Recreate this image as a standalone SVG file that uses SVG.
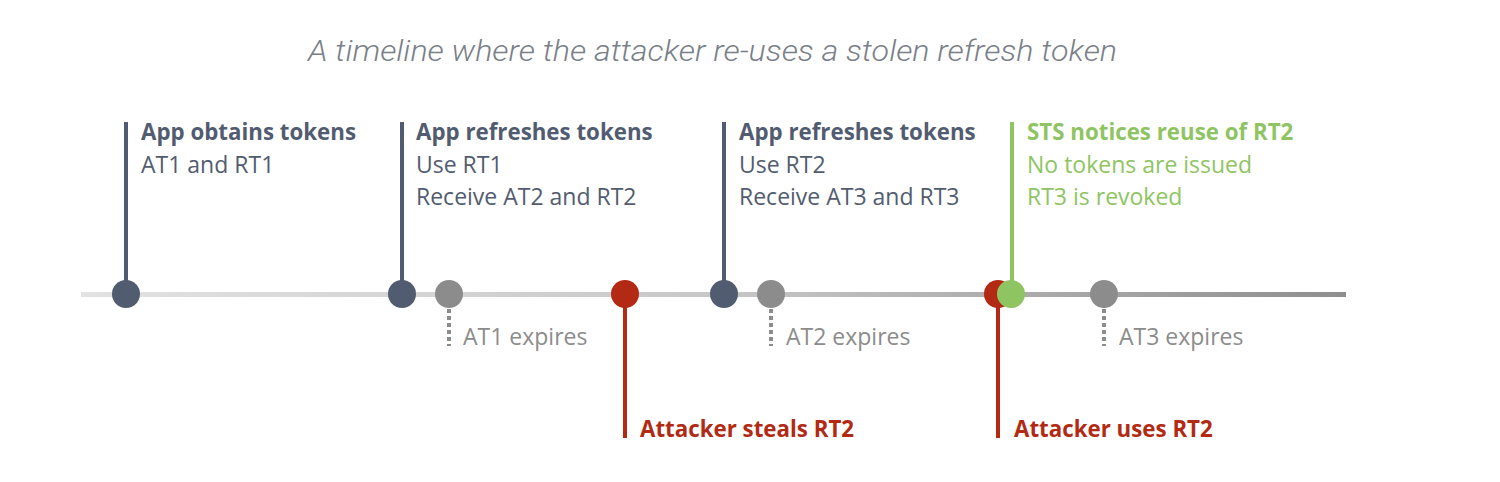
<svg xmlns="http://www.w3.org/2000/svg" width="1500" height="482" viewBox="0 0 1500 482">
<style>
.t{font-family:"Open Sans","Noto Sans",sans-serif;font-size:23px}
.b{font-weight:bold;font-size:22.3px}
.dk{fill:#525c70}
.gn{fill:#8fc463}
.rd{fill:#b22a14}
.gy{fill:#8c8c8c}
.title{font-family:Roboto,"Liberation Sans",sans-serif;font-style:italic;font-weight:300;font-size:29px;fill:#7a7f88}
.sd{stroke:#525c70;stroke-width:4}
.sg{stroke:#8fc463;stroke-width:4}
.sr{stroke:#b22a14;stroke-width:4}
.sy{stroke:#8c8c8c;stroke-width:4;stroke-dasharray:4 3}
</style>
<defs>
<linearGradient id="axis" x1="0" x2="1" y1="0" y2="0">
<stop offset="0" stop-color="#e2e2e2"/>
<stop offset="0.5" stop-color="#c8c8c8"/>
<stop offset="1" stop-color="#8e8e8e"/>
</linearGradient>
</defs>
<rect width="1500" height="482" fill="#ffffff"/>
<text class="title" x="308" y="61" textLength="809" lengthAdjust="spacingAndGlyphs">A timeline where the attacker re-uses a stolen refresh token</text>
<g id="connectors">
<rect x="81" y="292" width="1265" height="5" fill="url(#axis)"/>
<line class="sd" x1="126" y1="122" x2="126" y2="294"/>
<line class="sd" x1="402" y1="122" x2="402" y2="294"/>
<line class="sd" x1="724" y1="122" x2="724" y2="294"/>
<line class="sg" x1="1012" y1="122" x2="1012" y2="294"/>
<line class="sr" x1="625" y1="294" x2="625" y2="438"/>
<line class="sr" x1="998" y1="294" x2="998" y2="438"/>
<line class="sy" x1="449" y1="309" x2="449" y2="346"/>
<line class="sy" x1="771" y1="309" x2="771" y2="346"/>
<line class="sy" x1="1104" y1="309" x2="1104" y2="346"/>
</g>
<g id="n1">
<circle class="dk" cx="126" cy="294" r="14"/>
<text class="t b dk" x="141" y="140">App obtains tokens</text>
<text class="t dk" x="141" y="173">AT1 and RT1</text>
</g>
<g id="n2">
<circle class="dk" cx="402" cy="294" r="14"/>
<text class="t b dk" x="416" y="140">App refreshes tokens</text>
<text class="t dk" x="416" y="173">Use RT1</text>
<text class="t dk" x="416" y="205">Receive AT2 and RT2</text>
</g>
<g id="n3">
<circle class="gy" cx="449" cy="294" r="14"/>
<text class="t gy" x="463" y="345">AT1 expires</text>
</g>
<g id="n4">
<circle class="rd" cx="625" cy="294" r="14"/>
<text class="t b rd" x="640" y="437">Attacker steals RT2</text>
</g>
<g id="n5">
<circle class="dk" cx="724" cy="294" r="14"/>
<text class="t b dk" x="739" y="140">App refreshes tokens</text>
<text class="t dk" x="739" y="173">Use RT2</text>
<text class="t dk" x="739" y="205">Receive AT3 and RT3</text>
</g>
<g id="n6">
<circle class="gy" cx="771" cy="294" r="14"/>
<text class="t gy" x="786" y="345">AT2 expires</text>
</g>
<g id="n7">
<circle class="rd" cx="998" cy="294" r="14"/>
<text class="t b rd" x="1014" y="437">Attacker uses RT2</text>
</g>
<g id="n8">
<circle class="gn" cx="1011" cy="294" r="14"/>
<text class="t b gn" x="1027" y="140">STS notices reuse of RT2</text>
<text class="t gn" x="1027" y="173">No tokens are issued</text>
<text class="t gn" x="1027" y="205">RT3 is revoked</text>
</g>
<g id="n9">
<circle class="gy" cx="1104" cy="294" r="14"/>
<text class="t gy" x="1119" y="345">AT3 expires</text>
</g>
</svg>
